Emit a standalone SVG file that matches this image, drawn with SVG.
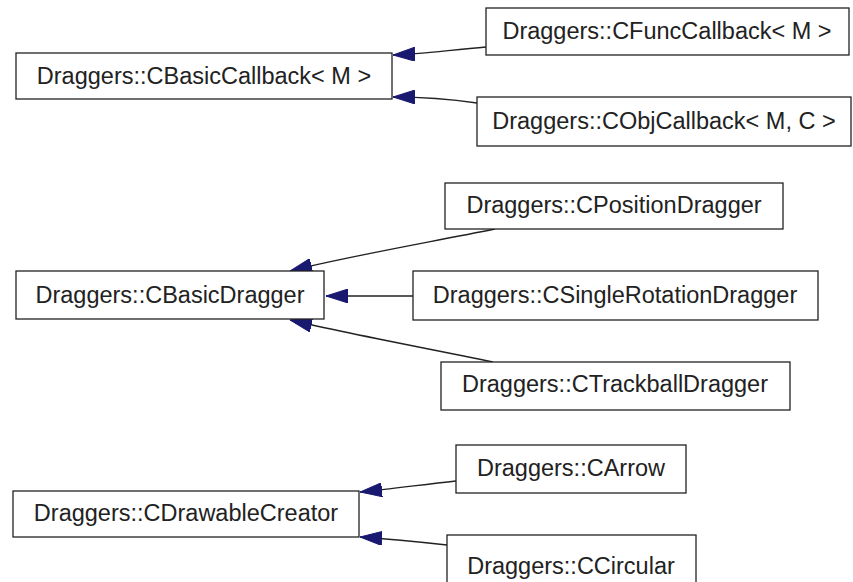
<svg xmlns="http://www.w3.org/2000/svg" width="853" height="582" viewBox="0 0 853 582">
<style>
.box{fill:#fff;stroke:#222;stroke-width:1.3}
.lbl{font-family:"Liberation Sans",Arial,sans-serif;font-size:23.5px;fill:#222;text-anchor:middle}
.edge{fill:none;stroke:#222;stroke-width:1.3;marker-end:url(#ah)}
</style>
<defs>
<marker id="ah" viewBox="0 -7 22 14" refX="22" refY="0" markerWidth="22" markerHeight="14" markerUnits="userSpaceOnUse" orient="auto">
<path d="M0,-7 L22,0 L0,7 z" fill="#191970" stroke="#191970"/>
</marker>
</defs>
<rect width="853" height="582" fill="#fff"/>
<g id="connectors">
<path class="edge" d="M486,47 C450,50 420,54 393,55"/>
<path class="edge" d="M477,103 C450,99 420,97 393,97"/>
<path class="edge" d="M495,229 C420,244 340,258 290,271"/>
<path class="edge" d="M413,296 L326,296"/>
<path class="edge" d="M493,362 C420,347 340,332 290,320"/>
<path class="edge" d="M456,481 C420,485 390,489 360,492"/>
<path class="edge" d="M447,545 C420,542 390,539 360,537"/>
</g>
<g id="CBasicCallback">
<rect class="box" x="16" y="53" width="376" height="46"/>
<text class="lbl" x="204" y="84">Draggers::CBasicCallback&lt; M &gt;</text>
</g>
<g id="CFuncCallback">
<rect class="box" x="486" y="8" width="363" height="47"/>
<text class="lbl" x="667" y="39">Draggers::CFuncCallback&lt; M &gt;</text>
</g>
<g id="CObjCallback">
<rect class="box" x="477" y="97" width="374" height="49"/>
<text class="lbl" x="664" y="129">Draggers::CObjCallback&lt; M, C &gt;</text>
</g>
<g id="CBasicDragger">
<rect class="box" x="16" y="271" width="308" height="48"/>
<text class="lbl" x="170" y="303">Draggers::CBasicDragger</text>
</g>
<g id="CPositionDragger">
<rect class="box" x="445" y="183" width="338" height="46"/>
<text class="lbl" x="614" y="213">Draggers::CPositionDragger</text>
</g>
<g id="CSingleRotationDragger">
<rect class="box" x="413" y="271" width="405" height="49"/>
<text class="lbl" x="615" y="303">Draggers::CSingleRotationDragger</text>
</g>
<g id="CTrackballDragger">
<rect class="box" x="441" y="362" width="349" height="48"/>
<text class="lbl" x="615" y="392">Draggers::CTrackballDragger</text>
</g>
<g id="CDrawableCreator">
<rect class="box" x="13" y="491" width="346" height="46"/>
<text class="lbl" x="186" y="521">Draggers::CDrawableCreator</text>
</g>
<g id="CArrow">
<rect class="box" x="456" y="445" width="230" height="48"/>
<text class="lbl" x="571" y="476">Draggers::CArrow</text>
</g>
<g id="CCircular">
<rect class="box" x="447" y="535" width="249" height="52"/>
<text class="lbl" x="571" y="574">Draggers::CCircular</text>
</g>
</svg>
